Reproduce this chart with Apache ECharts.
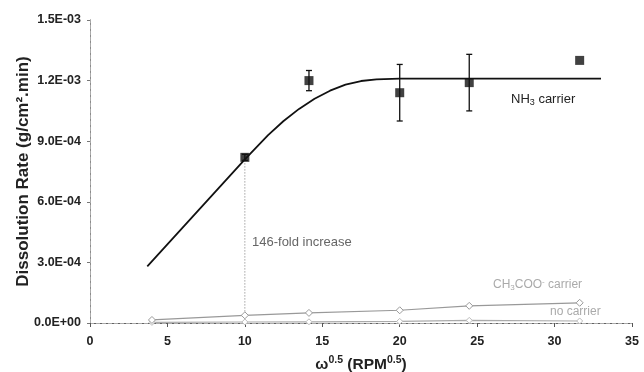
<!DOCTYPE html>
<html>
<head>
<meta charset="utf-8">
<script src="https://cdn.jsdelivr.net/npm/echarts@6/dist/echarts.min.js"></script>
<style>
  html, body { margin: 0; padding: 0; background: #fff; }
  #chart { width: 644px; height: 372px; }
</style>
</head>
<body>
<div id="chart"></div>
<script>
// measured points, NH3 carrier (with error bars)
const nh3X = [10, 14.14, 20, 24.49, 31.62];
const nh3Y = [8.2e-4, 1.20e-3, 1.14e-3, 1.19e-3, 1.30e-3];
const nh3Err = [1.5e-5, 5e-5, 1.4e-4, 1.4e-4, 0];

// fitted curve through the NH3 data
const fitX = [3.7, 10, 11.5, 12.5, 13.5, 14.5, 15.5, 16.5, 17.5, 18.5, 20, 33];
const fitY = [2.8e-4, 8.1e-4, 9.3e-4, 1.0e-3, 1.06e-3, 1.11e-3, 1.15e-3, 1.18e-3, 1.198e-3, 1.206e-3, 1.21e-3, 1.21e-3];

// acetate carrier and no carrier
const acX = [4.0, 10, 14.14, 20, 24.49, 31.62];
const acY = [1.5e-5, 3.8e-5, 5.0e-5, 6.3e-5, 8.5e-5, 1.0e-4];
const noX = [4.0, 10, 14.14, 20, 24.49, 31.62];
const noY = [3e-6, 5e-6, 6e-6, 8e-6, 1.3e-5, 1.0e-5];

// dotted guide at omega^0.5 = 10
const guideX = [10, 10];
const guideY = [7.9e-4, 0];

const yTicks = [0, 3e-4, 6e-4, 9e-4, 1.2e-3, 1.5e-3];
const xTicks = [0, 5, 10, 15, 20, 25, 30, 35];

const FONT = "Liberation Sans, Arial, sans-serif";

function sci(v) {
  if (Math.abs(v) < 1e-12) return "0.0E+00";
  const e = Math.floor(Math.log10(Math.abs(v)) + 1e-9);
  const m = v / Math.pow(10, e);
  return m.toFixed(1) + "E" + (e < 0 ? "-" : "+") + String(Math.abs(e)).padStart(2, "0");
}

const zip = (xs, ys) => xs.map((x, i) => [x, ys[i]]);

const errData = nh3X
  .map((x, i) => [x, nh3Y[i] - nh3Err[i], nh3Y[i] + nh3Err[i]])
  .filter((d, i) => nh3Err[i] > 0);

const chart = echarts.init(document.getElementById("chart"));

chart.setOption({
  animation: false,
  grid: { left: 90, right: 12, top: 20, bottom: 49, outerBoundsMode: "none" },
  xAxis: [
    {
      type: "value",
      min: xTicks[0],
      max: xTicks[xTicks.length - 1],
      interval: 5,
      splitLine: { show: false },
      axisLine: { lineStyle: { color: "#333", width: 1 } },
      axisTick: { length: 4, lineStyle: { color: "#555" } },
      axisLabel: { margin: 12, color: "#222", fontSize: 12.5, fontWeight: "bold", fontFamily: FONT },
      name: "{w|ω}{s|0.5}{w| (RPM}{s|0.5}{w|)}",
      nameLocation: "middle",
      nameGap: 32,
      nameTextStyle: {
        rich: {
          w: { fontSize: 15.5, fontWeight: "bold", color: "#222", fontFamily: FONT, lineHeight: 20 },
          s: { fontSize: 10.5, fontWeight: "bold", color: "#222", fontFamily: FONT, lineHeight: 20, verticalAlign: "top", padding: [0, 0, 8, 0] }
        }
      }
    },
    {
      type: "value",
      position: "top",
      min: 0, max: 35,
      axisLine: { show: true, lineStyle: { color: "#aaa", type: "dashed", width: 1 } },
      axisTick: { show: false },
      axisLabel: { show: false },
      splitLine: { show: false }
    }
  ],
  yAxis: [
    {
      type: "value",
      min: yTicks[0],
      max: yTicks[yTicks.length - 1],
      interval: 3e-4,
      splitLine: { show: false },
      axisLine: { show: true, lineStyle: { color: "#777", width: 1 } },
      axisTick: { show: true, length: 3, lineStyle: { color: "#777" } },
      axisLabel: { margin: 9, color: "#222", fontSize: 12.5, fontWeight: "bold", fontFamily: FONT, formatter: sci },
      name: "Dissolution Rate (g/cm².min)",
      nameLocation: "middle",
      nameMoveOverlap: false,
      nameGap: 58,
      nameTextStyle: { fontSize: 17, fontWeight: "bold", color: "#222", fontFamily: FONT }
    },
    {
      type: "value",
      position: "right",
      min: 0, max: 1.5e-3,
      axisLine: { show: true, lineStyle: { color: "#aaa", type: "dashed", width: 1 } },
      axisTick: { show: false },
      axisLabel: { show: false },
      splitLine: { show: false }
    }
  ],
  series: [
    {
      name: "guide",
      type: "line",
      data: zip(guideX, guideY),
      showSymbol: false,
      lineStyle: { color: "#777", width: 1, type: [1, 2] },
      z: 1
    },
    {
      name: "no carrier",
      type: "line",
      data: zip(noX, noY),
      symbol: "diamond",
      symbolSize: 6,
      itemStyle: { color: "#fff", borderColor: "#bbb", borderWidth: 1 },
      lineStyle: { color: "#aaa", width: 1.2 },
      z: 2
    },
    {
      name: "CH3COO- carrier",
      type: "line",
      data: zip(acX, acY),
      symbol: "diamond",
      symbolSize: 7,
      itemStyle: { color: "#fff", borderColor: "#999", borderWidth: 1 },
      lineStyle: { color: "#999", width: 1.2 },
      z: 3
    },
    {
      name: "fit",
      type: "line",
      data: zip(fitX, fitY),
      showSymbol: false,
      smooth: false,
      lineStyle: { color: "#111", width: 1.8 },
      z: 4
    },
    {
      name: "error",
      type: "custom",
      data: errData,
      renderItem: function (params, api) {
        const x = api.value(0);
        const lo = api.coord([x, api.value(1)]);
        const hi = api.coord([x, api.value(2)]);
        const w = 3;
        const style = { stroke: "#111", lineWidth: 1.3 };
        return {
          type: "group",
          children: [
            { type: "line", shape: { x1: lo[0], y1: lo[1], x2: hi[0], y2: hi[1] }, style: style },
            { type: "line", shape: { x1: lo[0] - w, y1: lo[1], x2: lo[0] + w, y2: lo[1] }, style: style },
            { type: "line", shape: { x1: hi[0] - w, y1: hi[1], x2: hi[0] + w, y2: hi[1] }, style: style }
          ]
        };
      },
      z: 5
    },
    {
      name: "NH3 carrier",
      type: "scatter",
      data: zip(nh3X, nh3Y),
      symbol: "rect",
      symbolSize: 9,
      itemStyle: { color: "#111" },
      z: 6
    }
  ],
  graphic: [
    {
      type: "text", left: 511, top: 93,
      style: {
        text: "NH{sub|3} carrier", fill: "#222", font: "13px " + FONT,
        rich: { sub: { fontSize: 9, fontFamily: FONT, fill: "#222", verticalAlign: "bottom", padding: [6, 0, 0, 0] } }
      }
    },
    {
      type: "text", left: 252, top: 236,
      style: { text: "146-fold increase", fill: "#666", font: "13px " + FONT }
    },
    {
      type: "text", left: 493, top: 278,
      style: {
        text: "CH{sub|3}COO{sup|-} carrier", fill: "#aaa", font: "12px " + FONT,
        rich: {
          sub: { fontSize: 8, fontFamily: FONT, fill: "#aaa", padding: [6, 0, 0, 0] },
          sup: { fontSize: 8, fontFamily: FONT, fill: "#aaa", padding: [0, 0, 6, 0] }
        }
      }
    },
    {
      type: "text", left: 550, top: 306,
      style: { text: "no carrier", fill: "#aaa", font: "12px " + FONT }
    }
  ]
});
</script>
</body>
</html>
